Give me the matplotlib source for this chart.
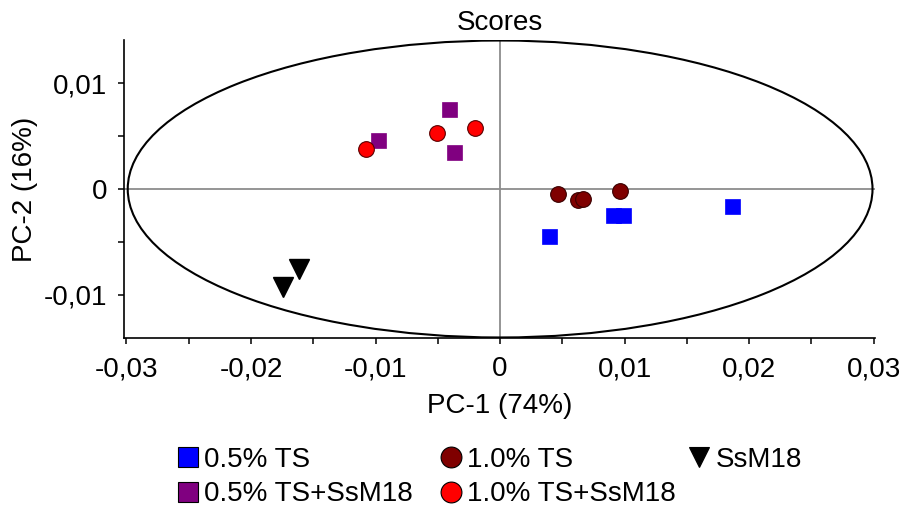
import numpy as np
import matplotlib
matplotlib.use('Agg')
import matplotlib.pyplot as plt
from matplotlib.patches import Ellipse
from matplotlib.lines import Line2D
from matplotlib.ticker import MultipleLocator, FuncFormatter

plt.rcParams['font.family'] = ['Liberation Sans', 'DejaVu Sans']

# PCA scores (PC-1, PC-2)
ts05_x = [0.00393, 0.00909, 0.00989, 0.01863]
ts05_y = [-0.00441, -0.00243, -0.00243, -0.00158]

ts10_x = [0.00465, 0.00628, 0.00663, 0.00960]
ts10_y = [-0.00044, -0.00108, -0.00092, -0.00023]

ts05_ss_x = [-0.00981, -0.00412, -0.00374]
ts05_ss_y = [0.00466, 0.00759, 0.00353]

ts10_ss_x = [-0.01075, -0.00508, -0.00203]
ts10_ss_y = [0.00378, 0.00529, 0.00576]

ssm18_x = [-0.01743, -0.01617]
ssm18_y = [-0.00926, -0.00753]

labels = ['0.5% TS', '1.0% TS', 'SsM18', '0.5% TS+SsM18', '1.0% TS+SsM18']

# Hotelling ellipse full widths
ell_w = 0.0598
ell_h = 0.0281

fs = 20

fig = plt.figure(figsize=(9, 5.12), dpi=100)
ax = fig.add_axes([124/900, 1-338/512, 751/900, 298/512])

ax.axhline(0, color='#8c8c8c', lw=1.3, zorder=1)
ax.axvline(0, color='#8c8c8c', lw=1.3, zorder=1)
ax.add_patch(Ellipse((0, 0), ell_w, ell_h, fill=False, ec='black', lw=1.5, zorder=2))

ax.plot(ts05_x, ts05_y, 's', color='#0000ff', ms=10.8, mec='#0000ff', mew=0.5, zorder=3)
ax.plot(ts10_x, ts10_y, 'o', color='#7f0000', ms=11.3, mec='#3a0000', mew=0.8, zorder=3)
ax.plot(ts05_ss_x, ts05_ss_y, 's', color='#800080', ms=10.8, mec='#800080', mew=0.5, zorder=3)
ax.plot(ts10_ss_x, ts10_ss_y, 'o', color='#ff0000', ms=11.3, mec='#5a0000', mew=0.8, zorder=3)
ax.plot(ssm18_x, ssm18_y, 'v', color='black', ms=14, zorder=3)

ax.set_xlim(-0.0302, 0.0301)
ax.set_ylim(-0.0141, 0.0141)

ax.spines['top'].set_visible(False)
ax.spines['right'].set_visible(False)
for s in ['left', 'bottom']:
    ax.spines[s].set_linewidth(1.2)

ax.xaxis.set_major_locator(MultipleLocator(0.01))
ax.xaxis.set_minor_locator(MultipleLocator(0.005))
ax.yaxis.set_major_locator(MultipleLocator(0.01))
ax.yaxis.set_minor_locator(MultipleLocator(0.005))

def comma_fmt(v, pos):
    if abs(v) < 1e-9:
        return '0'
    return ('%.2f' % v).replace('.', ',')

ax.xaxis.set_major_formatter(FuncFormatter(comma_fmt))
ax.yaxis.set_major_formatter(FuncFormatter(comma_fmt))
ax.tick_params(which='both', direction='out', length=4, width=1.1, labelsize=fs)
ax.tick_params(axis='x', pad=9)
ax.tick_params(axis='y', pad=8)

ax.set_title('Scores', fontsize=fs, pad=7)
ax.set_xlabel('PC-1 (74%)', fontsize=fs, labelpad=8)
ax.set_ylabel('PC-2 (16%)', fontsize=fs, labelpad=4)

# legend, three columns placed separately
def handle(marker, color, ms):
    return Line2D([], [], ls='none', marker=marker, color=color, ms=ms,
                  mec='black', mew=0.8)

h_ts05 = handle('s', '#0000ff', 15)
h_ts10 = handle('o', '#7f0000', 15)
h_ssm = handle('v', 'black', 15)
h_ts05_ss = handle('s', '#800080', 15)
h_ts10_ss = handle('o', '#ff0000', 15)

cols = [([h_ts05, h_ts05_ss], [labels[0], labels[3]], 178),
        ([h_ts10, h_ts10_ss], [labels[1], labels[4]], 441),
        ([h_ssm], [labels[2]], 689)]
for hs, ls, xpx in cols:
    fig.legend(hs, ls, loc='upper left', bbox_to_anchor=(xpx/900, 1-447/512),
               frameon=False, fontsize=fs, handlelength=0.75, handletextpad=0.2,
               borderpad=0, borderaxespad=0, labelspacing=0.3)

fig.savefig('out.png', dpi=100)
